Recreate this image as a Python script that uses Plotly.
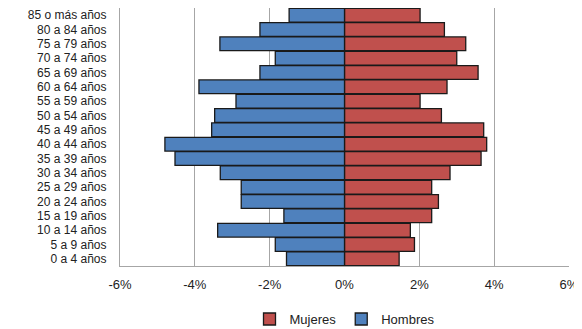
import plotly.graph_objects as go

# grupos de edad, de abajo hacia arriba
grupos = ["0 a 4 años", "5 a 9 años", "10 a 14 años", "15 a 19 años", "20 a 24 años",
          "25 a 29 años", "30 a 34 años", "35 a 39 años", "40 a 44 años", "45 a 49 años",
          "50 a 54 años", "55 a 59 años", "60 a 64 años", "65 a 69 años", "70 a 74 años",
          "75 a 79 años", "80 a 84 años", "85 o más años"]

# % de la poblacion
mujeres = [1.46, 1.87, 1.76, 2.33, 2.51, 2.33, 2.82, 3.65, 3.80, 3.72,
           2.59, 2.02, 2.74, 3.57, 3.00, 3.24, 2.67, 2.02]
hombres = [1.55, 1.85, 3.39, 1.62, 2.76, 2.76, 3.32, 4.53, 4.80, 3.55,
           3.47, 2.90, 3.89, 2.26, 1.85, 3.33, 2.26, 1.48]

tick_vals = [-6, -4, -2, 0, 2, 4, 6]
tick_text = ["-6%", "-4%", "-2%", "0%", "2%", "4%", "6%"]

fig = go.Figure()
fig.add_trace(go.Bar(y=grupos, x=mujeres, orientation="h", name="Mujeres",
                     marker=dict(color="#C0504D", line=dict(color="#1a1a1a", width=1.3))))
fig.add_trace(go.Bar(y=grupos, x=[-v for v in hombres], orientation="h", name="Hombres",
                     marker=dict(color="#4F81BD", line=dict(color="#1a1a1a", width=1.3))))

# la pagina tiene 8px de margen en el body, asi que la figura es algo menor
fig.update_layout(
    width=574, height=321,
    margin=dict(l=112, r=13, t=0, b=63),
    barmode="overlay", bargap=0.04,
    plot_bgcolor="white", paper_bgcolor="white",
    font=dict(family="Liberation Sans, Arial", size=12, color="#222"),
    showlegend=True,
    legend=dict(orientation="h", x=0.5, xanchor="center",
                yref="container", y=0.031, yanchor="middle",
                font=dict(size=13), itemwidth=30, tracegroupgap=0),
)
fig.update_xaxes(range=[-6, 6], tickvals=tick_vals, ticktext=tick_text,
                 showgrid=True, gridcolor="#a6a6a6", gridwidth=1.2,
                 zeroline=True, zerolinecolor="#a6a6a6", zerolinewidth=1.2,
                 showline=True, linecolor="#a6a6a6", linewidth=1.2,
                 tickfont=dict(size=13), ticklabelstandoff=6,
                 automargin=False, fixedrange=True)
fig.update_yaxes(categoryorder="array", categoryarray=grupos,
                 showline=True, linecolor="#a6a6a6", linewidth=1.2,
                 ticklabelstandoff=10, automargin=False, fixedrange=True)

fig.write_html("out.html")
